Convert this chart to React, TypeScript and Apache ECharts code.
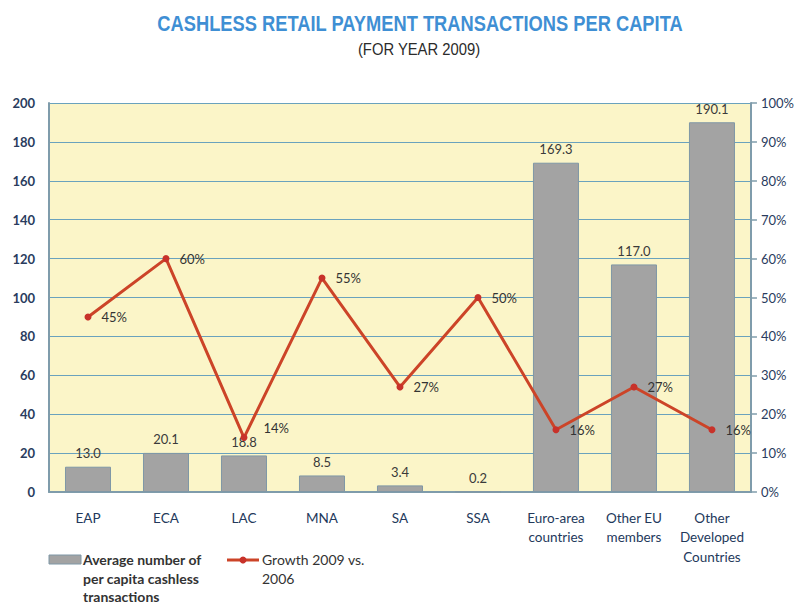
import React, { useEffect, useRef } from "react";
import * as echarts from "echarts";

const categories = ["EAP", "ECA", "LAC", "MNA", "SA", "SSA", "Euro-area\ncountries", "Other EU\nmembers", "Other\nDeveloped\nCountries"];
const avgTransactions = [13.0, 20.1, 18.8, 8.5, 3.4, 0.2, 169.3, 117.0, 190.1];
const growth = [45, 60, 14, 55, 27, 50, 16, 27, 16];
const barName = "Average number of\nper capita cashless\ntransactions";
const lineName = "Growth 2009 vs.\n2006";
const titleText = "CASHLESS RETAIL PAYMENT TRANSACTIONS PER CAPITA";
const subtitleText = "(FOR YEAR 2009)";

const FONT = "Lato, 'Liberation Sans', sans-serif";
const TFONT = "'Liberation Sans', Arial, sans-serif";

export default function App() {
  const ref = useRef<HTMLDivElement>(null);
  useEffect(() => {
    const chart = echarts.init(ref.current!, null, { renderer: "svg" });
    const lineData = growth.map((v, i) =>
      i === 2 ? { value: v, label: { offset: [6, -10] } } : v
    );
    chart.setOption({
      animation: false,
      backgroundColor: "#ffffff",
      graphic: [
        {
          type: "text",
          x: 420,
          y: 23,
          scaleX: 0.832,
          style: {
            text: titleText,
            font: `bold 22px ${TFONT}`,
            fill: "#3f8fd4",
            textAlign: "center",
            textVerticalAlign: "middle",
          },
        },
        {
          type: "text",
          x: 419,
          y: 49,
          scaleX: 0.87,
          style: {
            text: subtitleText,
            font: `17px ${TFONT}`,
            fill: "#2b2b2b",
            textAlign: "center",
            textVerticalAlign: "middle",
          },
        },
        {
          type: "rect",
          shape: { x: 49, y: 555, width: 32, height: 9 },
          style: { fill: "#a3a3a3", stroke: "#7f97a6", lineWidth: 1 },
        },
        {
          type: "text",
          x: 83,
          y: 550.5,
          style: {
            text: barName,
            font: `bold 14px ${FONT}`,
            fill: "#333",
            lineHeight: 18.5,
            textVerticalAlign: "top",
          },
        },
        {
          type: "line",
          shape: { x1: 227, y1: 560, x2: 259, y2: 560 },
          style: { stroke: "#cc4428", lineWidth: 3 },
        },
        {
          type: "circle",
          shape: { cx: 243, cy: 560, r: 3.5 },
          style: { fill: "#c8322a" },
        },
        {
          type: "text",
          x: 262,
          y: 550.5,
          style: {
            text: lineName,
            font: `14px ${FONT}`,
            fill: "#333",
            lineHeight: 18.5,
            textVerticalAlign: "top",
          },
        },
      ],
      grid: {
        left: 49,
        right: 46,
        top: 103,
        bottom: 113,
        show: true,
        backgroundColor: "#fbf5c8",
        borderWidth: 0,
      },
      xAxis: {
        type: "category",
        data: categories,
        axisLine: { lineStyle: { color: "#7f9cab", width: 2 } },
        axisTick: { show: false },
        axisLabel: { interval: 0, fontFamily: FONT, fontSize: 13.5, color: "#23395b", lineHeight: 19.5, margin: 16 },
      },
      yAxis: [
        {
          type: "value",
          min: 0,
          max: 200,
          interval: 20,
          axisLine: { show: true, lineStyle: { color: "#7f9cab", width: 2 } },
          axisTick: { show: false },
          splitLine: { lineStyle: { color: "#6aa2bd", width: 1.2 } },
          axisLabel: { fontFamily: FONT, fontSize: 13, fontWeight: "bold", color: "#2a3c5e", margin: 14 },
        },
        {
          type: "value",
          min: 0,
          max: 100,
          interval: 10,
          position: "right",
          axisLine: { show: true, lineStyle: { color: "#7f9cab", width: 2 } },
          axisTick: { show: true, length: 6, lineStyle: { color: "#7f9cab", width: 1.5 } },
          splitLine: { show: false },
          axisLabel: { fontFamily: FONT, fontSize: 13, color: "#2a3c5e", formatter: "{value}%", margin: 10 },
        },
      ],
      series: [
        {
          name: barName,
          type: "bar",
          data: avgTransactions,
          yAxisIndex: 0,
          barWidth: "59%",
          itemStyle: { color: "#a3a3a3", borderColor: "#7f97a6", borderWidth: 1 },
          label: {
            show: true,
            position: "top",
            distance: 7,
            formatter: (p: any) => p.value.toFixed(1),
            fontFamily: FONT,
            fontSize: 13,
            color: "#3a3a3a",
          },
        },
        {
          name: lineName,
          type: "line",
          data: lineData,
          yAxisIndex: 1,
          symbol: "circle",
          symbolSize: 7,
          lineStyle: { color: "#cc4428", width: 3 },
          itemStyle: { color: "#c8322a" },
          label: {
            show: true,
            position: "right",
            distance: 10,
            formatter: "{c}%",
            fontFamily: FONT,
            fontSize: 13,
            color: "#333",
          },
        },
      ],
    });
    return () => chart.dispose();
  }, []);
  return <div ref={ref} style={{ width: 797, height: 605, position: "absolute", left: 0, top: 0 }} />;
}
